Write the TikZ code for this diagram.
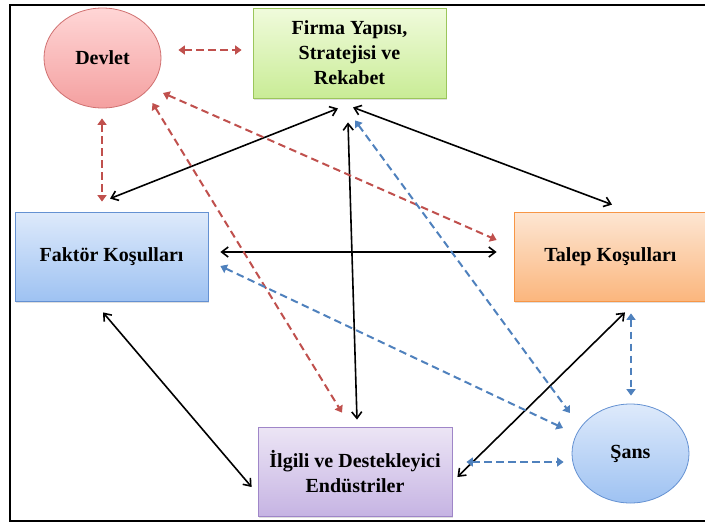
\documentclass[tikz,border=0pt]{standalone}
\usepackage{fontspec}
\setmainfont{Liberation Serif}
\usepackage{tikz}
\usetikzlibrary{arrows.meta, shapes.geometric, shadows}
% Colors of the diagram
\definecolor{okred}{RGB}{192,80,77}
\definecolor{okblue}{RGB}{79,129,189}
\definecolor{redtop}{RGB}{255,214,214}
\definecolor{redbot}{RGB}{244,160,160}
\definecolor{redline}{RGB}{208,112,112}
\definecolor{greentop}{RGB}{240,251,220}
\definecolor{greenbot}{RGB}{201,236,150}
\definecolor{greenline}{RGB}{155,198,91}
\definecolor{bluetop}{RGB}{222,234,251}
\definecolor{bluebot}{RGB}{158,194,242}
\definecolor{blueline}{RGB}{100,145,210}
\definecolor{orangetop}{RGB}{253,230,211}
\definecolor{orangebot}{RGB}{251,182,125}
\definecolor{orangeline}{RGB}{247,150,70}
\definecolor{lilactop}{RGB}{236,229,245}
\definecolor{lilacbot}{RGB}{198,180,227}
\definecolor{lilacline}{RGB}{159,134,200}

\begin{document}
\begin{tikzpicture}[x=1pt, y=-1pt,
    every node/.style={font=\fontsize{20}{25}\selectfont\bfseries, align=center, text=black},
    kutu/.style={draw, rectangle, minimum width=193pt, minimum height=89pt, inner sep=2pt, line width=0.8pt,
        drop shadow={opacity=0.25, shadow xshift=1pt, shadow yshift=-1.5pt}},
    balon/.style={draw, ellipse, minimum width=117pt, minimum height=100pt, inner sep=0pt, line width=0.8pt},
    duz/.style={line width=1.6pt, {Straight Barb[length=6.5pt,width=10pt]}-{Straight Barb[length=6.5pt,width=10pt]}},
    kesik/.style={line width=2pt, dash pattern=on 7.5pt off 4.5pt, {Triangle[length=6.5pt,width=9pt]}-{Triangle[length=6.5pt,width=9pt]}},
    ]
        \useasboundingbox (0,0) rectangle (705,523);
        \fill[white] (0,0) rectangle (705,523);
        % Frame
        \draw[line width=1.8pt] (10,5) rectangle (707,521);

        % Elements of the diamond
        \node[balon, draw=redline, top color=redtop, bottom color=redbot] (devlet) at (102.5,58) {Devlet};
        \node[kutu, draw=greenline, top color=greentop, bottom color=greenbot, minimum height=90pt] (firma) at (349.5,53) {Firma Yapısı,\\Stratejisi ve\\Rekabet};
        \node[kutu, draw=blueline, top color=bluetop, bottom color=bluebot] (faktor) at (111.5,256.5) {Faktör Koşulları};
        \node[kutu, draw=orangeline, top color=orangetop, bottom color=orangebot] (talep) at (610.5,256.5) {Talep Koşulları};
        \node[kutu, draw=lilacline, top color=lilactop, bottom color=lilacbot, minimum width=194pt] (ilgili) at (355,471.5) {İlgili ve Destekleyici\\Endüstriler};
        \node[balon, draw=blueline, top color=bluetop, bottom color=bluebot, minimum height=99pt] (sans) at (630.5,453.5) {Şans};

        % Solid links between the four determinants
        \draw[duz] ([shift={(-1.5,-13)}]faktor.north) -- ([shift={(-11.5,10)}]firma.south);
        \draw[duz] ([shift={(3.5,9)}]firma.south) -- ([shift={(1.5,-7)}]talep.north);
        \draw[duz] ([shift={(-1.5,24)}]firma.south) -- ([shift={(2,-7)}]ilgili.north);
        \draw[duz] ([shift={(12,-4.5)}]faktor.east) -- ([shift={(-17,-4.5)}]talep.west);
        \draw[duz] ([shift={(-8.5,11)}]faktor.south) -- ([shift={(-6,15.5)}]ilgili.west);
        \draw[duz] ([shift={(5,5.5)}]ilgili.east) -- ([shift={(14.5,11)}]talep.south);

        % Dashed links of Devlet
        \draw[kesik, okred] ([shift={(17,-8)}]devlet.east) -- ([shift={(-11,-3)}]firma.west);
        \draw[kesik, okred] ([shift={(-0.5,10)}]devlet.south) -- ([shift={(-9.5,-10)}]faktor.north);
        \draw[kesik, okred] ([shift={(60.5,35)}]devlet.center) -- ([shift={(-17,-16.5)}]talep.west);
        \draw[kesik, okred] ([shift={(50,45)}]devlet.center) -- ([shift={(-13,-14)}]ilgili.north);

        % Dashed links of Sans
        \draw[kesik, okblue] ([shift={(5.5,22)}]firma.south) -- ([shift={(-60.5,-40.5)}]sans.center);
        \draw[kesik, okblue] ([shift={(12,9.5)}]faktor.east) -- ([shift={(-67.5,-25.5)}]sans.center);
        \draw[kesik, okblue] ([shift={(20.5,12)}]talep.south) -- ([shift={(0.5,-8)}]sans.north);
        \draw[kesik, okblue] ([shift={(14,-9.5)}]ilgili.east) -- ([shift={(-8,8.5)}]sans.west);
\end{tikzpicture}
\end{document}
